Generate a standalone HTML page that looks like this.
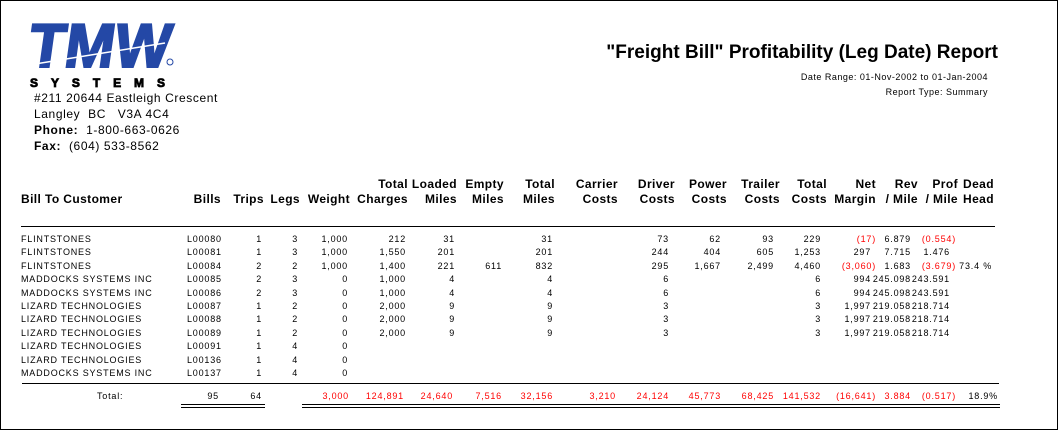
<!DOCTYPE html>
<html><head><meta charset="utf-8"><style>
body{margin:0;background:#fff;}
#p{position:relative;width:1056px;height:428px;border:1px solid #000;overflow:hidden;background:#fff;font-family:"Liberation Sans",Arial,sans-serif;color:#000;}
.a{position:absolute;white-space:nowrap;}
.h{position:absolute;font-weight:bold;font-size:12px;text-align:right;line-height:15px;white-space:nowrap;letter-spacing:0.4px;}
.r{position:absolute;left:0;width:1056px;height:13px;font-size:9px;line-height:13px;letter-spacing:0.8px;}
.r span{position:absolute;top:0;white-space:nowrap;}
.red{color:#f00;}
.ln{position:absolute;height:1px;background:#000;}
</style></head><body><div id="p">
<svg class="a" style="left:24px;top:18px" width="170" height="72">
<g transform="skewX(-8)">
<text x="8" y="48" font-family="Liberation Sans" font-weight="bold" font-size="62" fill="#2448a6" stroke="#2448a6" stroke-width="2" textLength="142" lengthAdjust="spacingAndGlyphs">TMW</text>
</g>
<line x1="10" y1="45" x2="140" y2="24" stroke="#fff" stroke-width="1.5"/>
<circle cx="145" cy="43" r="3" fill="none" stroke="#2448a6"/>
<text x="5" y="68" font-family="Liberation Sans" font-weight="bold" font-size="12" fill="#000" stroke="#000" stroke-width="0.8" textLength="135" lengthAdjust="spacing">SYSTEMS</text>
</svg>
<div class="a" style="left:33px;top:89px;font-size:12px;letter-spacing:0.6px;line-height:16px">#211 20644 Eastleigh Crescent<br>Langley&nbsp; BC&nbsp;&nbsp; V3A 4C4<br><b>Phone:</b>&nbsp; 1-800-663-0626<br><b>Fax:</b>&nbsp; (604) 533-8562</div>
<div class="a" style="right:59px;top:41px;font-size:19px;font-weight:bold">"Freight Bill" Profitability (Leg Date) Report</div>
<div class="a" style="right:69px;top:69px;font-size:9px;text-align:right;line-height:15px;letter-spacing:0.5px">Date Range: 01-Nov-2002 to 01-Jan-2004<br>Report Type: Summary</div>

<div class="h" style="left:20px;top:191px;text-align:left">Bill To Customer</div>
<div class="h" style="right:836px;top:191px">Bills</div>
<div class="h" style="right:793px;top:191px">Trips</div>
<div class="h" style="right:757px;top:191px">Legs</div>
<div class="h" style="right:707px;top:191px">Weight</div>
<div class="h" style="right:649px;top:176px">Total<br>Charges</div>
<div class="h" style="right:600px;top:176px">Loaded<br>Miles</div>
<div class="h" style="right:553px;top:176px">Empty<br>Miles</div>
<div class="h" style="right:502px;top:176px">Total<br>Miles</div>
<div class="h" style="right:439px;top:176px">Carrier<br>Costs</div>
<div class="h" style="right:382px;top:176px">Driver<br>Costs</div>
<div class="h" style="right:330px;top:176px">Power<br>Costs</div>
<div class="h" style="right:277px;top:176px">Trailer<br>Costs</div>
<div class="h" style="right:230px;top:176px">Total<br>Costs</div>
<div class="h" style="right:181px;top:176px">Net<br>Margin</div>
<div class="h" style="right:139px;top:176px">Rev<br>/ Mile</div>
<div class="h" style="right:99px;top:176px">Prof<br>/ Mile</div>
<div class="h" style="right:63px;top:176px">Dead<br>Head</div>
<div class="ln" style="left:20px;top:225px;width:974px"></div>

<div class="r" style="top:232px"><span style="left:20px">FLINTSTONES</span><span style="left:186px">L00080</span><span style="right:795px">1</span><span style="right:759px">3</span><span style="right:709px">1,000</span><span style="right:651px">212</span><span style="right:602px">31</span><span style="right:504px">31</span><span style="right:388px">73</span><span style="right:336px">62</span><span style="right:283px">93</span><span style="right:236px">229</span><span class="red" style="right:181px">(17)</span><span style="right:146px">6.879</span><span class="red" style="right:101px">(0.554)</span></div>
<div class="r" style="top:245px"><span style="left:20px">FLINTSTONES</span><span style="left:186px">L00081</span><span style="right:795px">1</span><span style="right:759px">3</span><span style="right:709px">1,000</span><span style="right:651px">1,550</span><span style="right:602px">201</span><span style="right:504px">201</span><span style="right:388px">244</span><span style="right:336px">404</span><span style="right:283px">605</span><span style="right:236px">1,253</span><span style="right:186px">297</span><span style="right:146px">7.715</span><span style="right:107px">1.476</span></div>
<div class="r" style="top:259px"><span style="left:20px">FLINTSTONES</span><span style="left:186px">L00084</span><span style="right:795px">2</span><span style="right:759px">2</span><span style="right:709px">1,000</span><span style="right:651px">1,400</span><span style="right:602px">221</span><span style="right:555px">611</span><span style="right:504px">832</span><span style="right:388px">295</span><span style="right:336px">1,667</span><span style="right:283px">2,499</span><span style="right:236px">4,460</span><span class="red" style="right:181px">(3,060)</span><span style="right:146px">1.683</span><span class="red" style="right:101px">(3.679)</span><span style="right:65px">73.4 %</span></div>
<div class="r" style="top:272px"><span style="left:20px">MADDOCKS SYSTEMS INC</span><span style="left:186px">L00085</span><span style="right:795px">2</span><span style="right:759px">3</span><span style="right:709px">0</span><span style="right:651px">1,000</span><span style="right:602px">4</span><span style="right:504px">4</span><span style="right:388px">6</span><span style="right:236px">6</span><span style="right:186px">994</span><span style="right:146px">245.098</span><span style="right:107px">243.591</span></div>
<div class="r" style="top:286px"><span style="left:20px">MADDOCKS SYSTEMS INC</span><span style="left:186px">L00086</span><span style="right:795px">2</span><span style="right:759px">3</span><span style="right:709px">0</span><span style="right:651px">1,000</span><span style="right:602px">4</span><span style="right:504px">4</span><span style="right:388px">6</span><span style="right:236px">6</span><span style="right:186px">994</span><span style="right:146px">245.098</span><span style="right:107px">243.591</span></div>
<div class="r" style="top:299px"><span style="left:20px">LIZARD TECHNOLOGIES</span><span style="left:186px">L00087</span><span style="right:795px">1</span><span style="right:759px">2</span><span style="right:709px">0</span><span style="right:651px">2,000</span><span style="right:602px">9</span><span style="right:504px">9</span><span style="right:388px">3</span><span style="right:236px">3</span><span style="right:186px">1,997</span><span style="right:146px">219.058</span><span style="right:107px">218.714</span></div>
<div class="r" style="top:312px"><span style="left:20px">LIZARD TECHNOLOGIES</span><span style="left:186px">L00088</span><span style="right:795px">1</span><span style="right:759px">2</span><span style="right:709px">0</span><span style="right:651px">2,000</span><span style="right:602px">9</span><span style="right:504px">9</span><span style="right:388px">3</span><span style="right:236px">3</span><span style="right:186px">1,997</span><span style="right:146px">219.058</span><span style="right:107px">218.714</span></div>
<div class="r" style="top:326px"><span style="left:20px">LIZARD TECHNOLOGIES</span><span style="left:186px">L00089</span><span style="right:795px">1</span><span style="right:759px">2</span><span style="right:709px">0</span><span style="right:651px">2,000</span><span style="right:602px">9</span><span style="right:504px">9</span><span style="right:388px">3</span><span style="right:236px">3</span><span style="right:186px">1,997</span><span style="right:146px">219.058</span><span style="right:107px">218.714</span></div>
<div class="r" style="top:339px"><span style="left:20px">LIZARD TECHNOLOGIES</span><span style="left:186px">L00091</span><span style="right:795px">1</span><span style="right:759px">4</span><span style="right:709px">0</span></div>
<div class="r" style="top:353px"><span style="left:20px">LIZARD TECHNOLOGIES</span><span style="left:186px">L00136</span><span style="right:795px">1</span><span style="right:759px">4</span><span style="right:709px">0</span></div>
<div class="r" style="top:366px"><span style="left:20px">MADDOCKS SYSTEMS INC</span><span style="left:186px">L00137</span><span style="right:795px">1</span><span style="right:759px">4</span><span style="right:709px">0</span></div>
<div class="ln" style="left:21px;top:382px;width:977px"></div>
<div class="r" style="top:389px"><span style="left:96px">Total:</span><span style="right:838px">95</span><span style="right:795px">64</span><span class="red" style="right:708px">3,000</span><span class="red" style="right:653px">124,891</span><span class="red" style="right:604px">24,640</span><span class="red" style="right:555px">7,516</span><span class="red" style="right:504px">32,156</span><span class="red" style="right:441px">3,210</span><span class="red" style="right:388px">24,124</span><span class="red" style="right:336px">45,773</span><span class="red" style="right:283px">68,425</span><span class="red" style="right:236px">141,532</span><span class="red" style="right:181px">(16,641)</span><span class="red" style="right:146px">3.884</span><span class="red" style="right:101px">(0.517)</span><span style="right:59px">18.9%</span></div>
<div class="ln" style="left:180px;top:403px;width:84px"></div>
<div class="ln" style="left:180px;top:406px;width:84px"></div>
<div class="ln" style="left:301px;top:403px;width:698px"></div>
<div class="ln" style="left:301px;top:406px;width:698px"></div>
</div></body></html>
